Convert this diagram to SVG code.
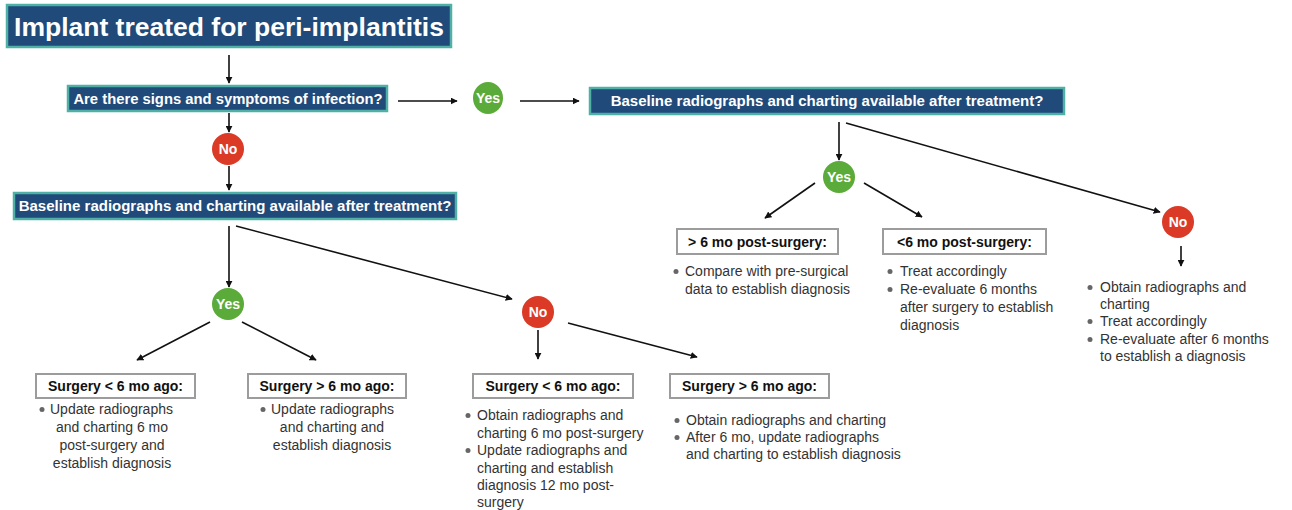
<svg xmlns="http://www.w3.org/2000/svg" width="1292" height="510" viewBox="0 0 1292 510">
<defs>
<marker id="ah" viewBox="0 0 10 10" refX="9" refY="5" markerWidth="7" markerHeight="7" markerUnits="userSpaceOnUse" orient="auto">
<path d="M0,0 L10,5 L0,10 z" fill="#111"/>
</marker>
<style>
.qbox{fill:#1f4a79;stroke:#4fb0a6;stroke-width:2.5}
.qtxt{font-family:"Liberation Sans",Arial,sans-serif;font-weight:bold;fill:#fff;text-anchor:middle}
.yes{fill:#5aab3a}
.no{fill:#da3a26}
.ctxt{font-family:"Liberation Sans",Arial,sans-serif;font-weight:bold;font-size:14px;fill:#fff;text-anchor:middle}
.sbox{fill:#fff;stroke:#9c9c9c;stroke-width:2}
.stxt{font-family:"Liberation Sans",Arial,sans-serif;font-weight:bold;font-size:14px;fill:#111;text-anchor:middle}
.btxt{font-family:"Liberation Sans",Arial,sans-serif;font-size:14px;fill:#333}
.mid{text-anchor:middle}
.dot{fill:#666}
.conn line{stroke:#111;stroke-width:1.6;marker-end:url(#ah)}
</style>
</defs>
<rect width="1292" height="510" fill="#fff"/>

<g id="title">
<rect class="qbox" x="7" y="5" width="444" height="42"/>
<text class="qtxt" x="229" y="36" font-size="26.5">Implant treated for peri-implantitis</text>
</g>

<g id="q-infection">
<rect class="qbox" x="68" y="86" width="319" height="25"/>
<text class="qtxt" x="228" y="103.5" font-size="14.8">Are there signs and symptoms of infection?</text>
</g>

<g id="yes-top">
<ellipse class="yes" cx="488" cy="98" rx="15" ry="16"/>
<text class="ctxt" x="488" y="103">Yes</text>
</g>

<g id="q-baseline-right">
<rect class="qbox" x="590" y="88" width="474" height="26"/>
<text class="qtxt" x="827" y="106" font-size="15">Baseline radiographs and charting available after treatment?</text>
</g>

<g id="no-left">
<ellipse class="no" cx="228" cy="149" rx="16" ry="16"/>
<text class="ctxt" x="228" y="154">No</text>
</g>

<g id="q-baseline-left">
<rect class="qbox" x="14" y="193" width="442" height="26"/>
<text class="qtxt" x="235" y="211" font-size="15">Baseline radiographs and charting available after treatment?</text>
</g>

<g id="yes-left">
<ellipse class="yes" cx="228" cy="304" rx="16" ry="16"/>
<text class="ctxt" x="228" y="309">Yes</text>
</g>

<g id="no-mid">
<ellipse class="no" cx="538" cy="312" rx="16" ry="16"/>
<text class="ctxt" x="538" y="317">No</text>
</g>

<g id="yes-right">
<ellipse class="yes" cx="839" cy="177" rx="16" ry="16"/>
<text class="ctxt" x="839" y="182">Yes</text>
</g>

<g id="no-right">
<ellipse class="no" cx="1178" cy="222" rx="16" ry="16"/>
<text class="ctxt" x="1178" y="227">No</text>
</g>

<g id="box1">
<rect class="sbox" x="36" y="374" width="159" height="24"/>
<text class="stxt" x="115.5" y="391">Surgery &lt; 6 mo ago:</text>
<circle class="dot" cx="42" cy="409.5" r="2.5"/>
<text class="btxt" x="50" y="414">Update radiographs</text>
<text class="btxt mid" x="112" y="432">and charting 6 mo</text>
<text class="btxt mid" x="112" y="450">post-surgery and</text>
<text class="btxt mid" x="112" y="468">establish diagnosis</text>
</g>

<g id="box2">
<rect class="sbox" x="248" y="374" width="158" height="24"/>
<text class="stxt" x="327" y="391">Surgery &gt; 6 mo ago:</text>
<circle class="dot" cx="263" cy="409.5" r="2.5"/>
<text class="btxt" x="271" y="414">Update radiographs</text>
<text class="btxt mid" x="332" y="432">and charting and</text>
<text class="btxt mid" x="332" y="450">establish diagnosis</text>
</g>

<g id="box3">
<rect class="sbox" x="473" y="374" width="160" height="24"/>
<text class="stxt" x="553" y="391">Surgery &lt; 6 mo ago:</text>
<circle class="dot" cx="468" cy="415.5" r="2.5"/>
<text class="btxt" x="477" y="420">Obtain radiographs and</text>
<text class="btxt" x="477" y="437.5">charting 6 mo post-surgery</text>
<circle class="dot" cx="468" cy="450.5" r="2.5"/>
<text class="btxt" x="477" y="455">Update radiographs and</text>
<text class="btxt" x="477" y="472.5">charting and establish</text>
<text class="btxt" x="477" y="490">diagnosis 12 mo post-</text>
<text class="btxt" x="477" y="507">surgery</text>
</g>

<g id="box4">
<rect class="sbox" x="670" y="374" width="159" height="24"/>
<text class="stxt" x="749.5" y="391">Surgery &gt; 6 mo ago:</text>
<circle class="dot" cx="677" cy="420.5" r="2.5"/>
<text class="btxt" x="686" y="425">Obtain radiographs and charting</text>
<circle class="dot" cx="677" cy="437.5" r="2.5"/>
<text class="btxt" x="686" y="442">After 6 mo, update radiographs</text>
<text class="btxt" x="686" y="459">and charting to establish diagnosis</text>
</g>

<g id="box5">
<rect class="sbox" x="677" y="229" width="161" height="25"/>
<text class="stxt" x="757.5" y="247">&gt; 6 mo post-surgery:</text>
<circle class="dot" cx="676" cy="271.5" r="2.5"/>
<text class="btxt" x="685" y="276">Compare with pre-surgical</text>
<text class="btxt" x="685" y="294">data to establish diagnosis</text>
</g>

<g id="box6">
<rect class="sbox" x="883" y="229" width="163" height="25"/>
<text class="stxt" x="964.5" y="247">&lt;6 mo post-surgery:</text>
<circle class="dot" cx="890" cy="271.5" r="2.5"/>
<text class="btxt" x="900" y="276">Treat accordingly</text>
<circle class="dot" cx="890" cy="289.5" r="2.5"/>
<text class="btxt" x="900" y="294">Re-evaluate 6 months</text>
<text class="btxt" x="900" y="312">after surgery to establish</text>
<text class="btxt" x="900" y="330">diagnosis</text>
</g>

<g id="box7">
<circle class="dot" cx="1090" cy="287.5" r="2.5"/>
<text class="btxt" x="1100" y="292">Obtain radiographs and</text>
<text class="btxt" x="1100" y="309">charting</text>
<circle class="dot" cx="1090" cy="321.5" r="2.5"/>
<text class="btxt" x="1100" y="326">Treat accordingly</text>
<circle class="dot" cx="1090" cy="339.5" r="2.5"/>
<text class="btxt" x="1100" y="344">Re-evaluate after 6 months</text>
<text class="btxt" x="1100" y="361">to establish a diagnosis</text>
</g>

<g id="connectors" class="conn">
<line x1="229" y1="55" x2="229" y2="83"/>
<line x1="398" y1="101" x2="457" y2="101"/>
<line x1="520" y1="101" x2="579" y2="101"/>
<line x1="229" y1="113" x2="229" y2="132"/>
<line x1="229" y1="166" x2="229" y2="190"/>
<line x1="229" y1="226" x2="229" y2="287"/>
<line x1="236" y1="226" x2="512" y2="299"/>
<line x1="210" y1="322" x2="137" y2="360"/>
<line x1="242" y1="322" x2="316" y2="360"/>
<line x1="538" y1="330" x2="538" y2="359"/>
<line x1="568" y1="323" x2="697" y2="357"/>
<line x1="839" y1="122" x2="839" y2="160"/>
<line x1="846" y1="123" x2="1160" y2="212"/>
<line x1="815" y1="183" x2="765" y2="218"/>
<line x1="864" y1="183" x2="922" y2="217"/>
<line x1="1181" y1="246" x2="1181" y2="266"/>
</g>
</svg>
